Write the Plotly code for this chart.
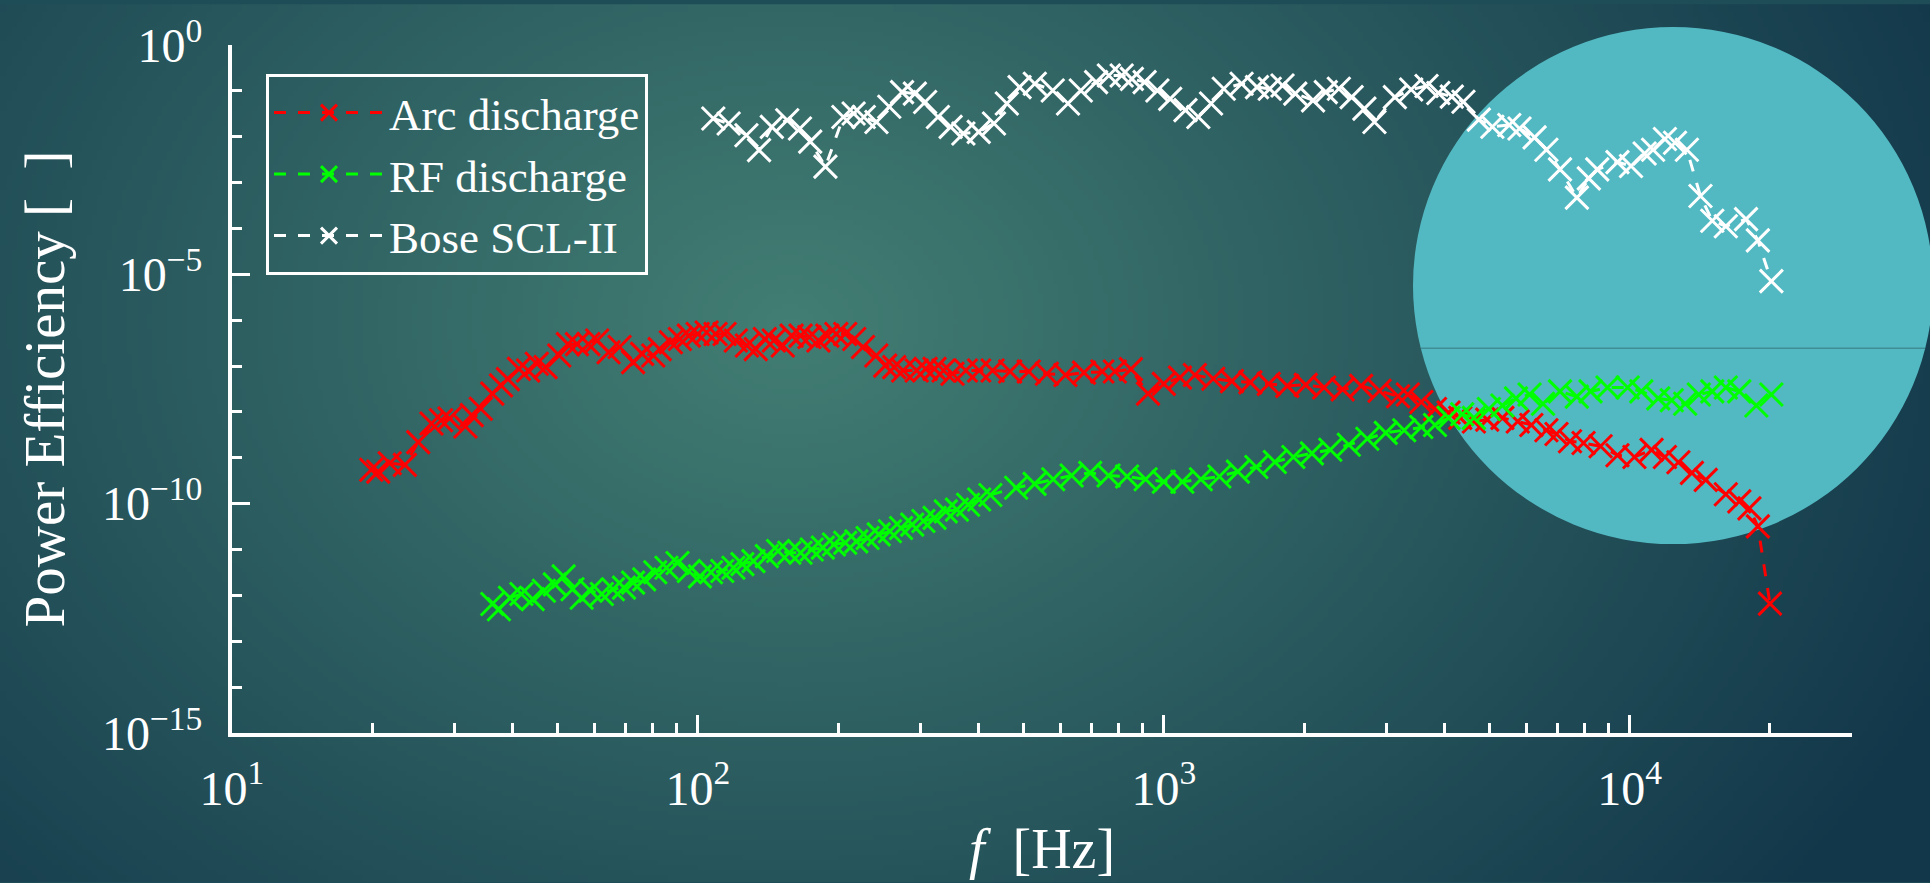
import zlib, struct, base64, math
import plotly.graph_objects as go

# ---------------- data ----------------
arc_freq = [19.9, 20.6, 21.8, 23.5, 25.1, 26.8, 28.1, 29.3, 31.7, 32.7,
            34.2, 36.2, 37.8, 39.1, 41.3, 43.2, 45.1, 47.1, 50.4, 52.6,
            55.0, 58.2, 60.8, 64.3, 67.9, 72.6, 75.9, 80.2, 82.8, 87.5,
            91.5, 95.6, 99.9, 104.4, 109.1, 114.1, 120.6, 127.4, 133.1, 139.2,
            145.5, 152.1, 158.9, 166.1, 173.5, 181.4, 189.6, 198.2, 207.1, 216.5,
            226.2, 241.5, 252.4, 263.9, 275.8, 294.8, 308.2, 322.1, 336.7, 351.9,
            375.9, 401.5, 429.1, 468, 513, 561, 615, 674, 738, 785,
            850, 925, 1000, 1083, 1166, 1277, 1400, 1534, 1680, 1841,
            2017, 2209, 2420, 2652, 2905, 3183, 3340, 3570, 3820, 4085,
            4328, 4630, 4945, 5330, 5750, 6150, 6625, 6965, 7445, 7960,
            8660, 9413, 10235, 11140, 11900, 12720, 13600, 14560, 16080, 17190,
            18070, 18840, 20000]
arc_eff = [5.5e-10, 5.0e-10, 7.6e-10, 7.0e-10, 2.2e-9, 5.6e-9, 6.6e-9, 7.2e-9, 4.8e-9, 8.5e-9,
           1.17e-8, 2.5e-8, 3.8e-8, 5.2e-8, 8.7e-8, 8.0e-8, 1.12e-7, 9.5e-8, 1.7e-7, 3.0e-7,
           3.0e-7, 3.0e-7, 3.6e-7, 2.0e-7, 2.6e-7, 1.22e-7, 1.84e-7, 1.7e-7, 2.34e-7, 3.3e-7,
           3.9e-7, 4.6e-7, 5.0e-7, 5.4e-7, 5.0e-7, 5.0e-7, 3.6e-7, 2.8e-7, 2.34e-7, 3.9e-7,
           3.6e-7, 2.8e-7, 4.6e-7, 4.6e-7, 4.3e-7, 3.6e-7, 4.6e-7, 5.0e-7, 5.0e-7, 3.9e-7,
           2.6e-7, 1.7e-7, 1.02e-7, 9.5e-8, 8.0e-8, 8.0e-8, 8.7e-8, 8.7e-8, 8.0e-8, 6.8e-8,
           8.0e-8, 8.0e-8, 8.0e-8, 7.6e-8, 7.6e-8, 6.8e-8, 6.4e-8, 7.2e-8, 7.6e-8, 7.6e-8,
           8.6e-8, 2.5e-8, 4.1e-8, 5.6e-8, 6.4e-8, 5.3e-8, 4.7e-8, 4.4e-8, 4.1e-8, 3.7e-8,
           3.9e-8, 3.4e-8, 3.1e-8, 3.7e-8, 2.9e-8, 2.2e-8, 2.4e-8, 1.65e-8, 1.16e-8, 9.7e-9,
           7.4e-9, 6.2e-9, 6.8e-9, 7.4e-9, 6.2e-9, 5.2e-9, 4.0e-9, 3.3e-9, 2.3e-9, 2.1e-9,
           1.78e-9, 1.14e-9, 1.04e-9, 1.49e-9, 1.04e-9, 8.0e-10, 4.7e-10, 3.3e-10, 1.6e-10, 1.12e-10,
           7.9e-11, 3.2e-11, 6.6e-13]

rf_freq = [36.2, 37.4, 39.5, 41.8, 44.2, 46.7, 49.3, 51.5, 53.8, 56.3,
           58.8, 62.2, 65.7, 69.4, 72.6, 76.7, 81.0, 85.6, 90.4, 95.6,
           101, 106.7, 112.8, 119.2, 124.6, 131.6, 140.6, 148.6, 157.1, 166.1,
           175.5, 185.4, 195.9, 207.1, 218.8, 231.3, 244.4, 258.3, 272.9, 288.4,
           304.8, 322.1, 340.4, 359.7, 380.1, 401.6, 424.4, 482, 528, 579,
           634, 695, 761, 834, 914, 1000, 1096, 1201, 1316, 1442,
           1580, 1731, 1897, 2079, 2277, 2495, 2734, 2995, 3281, 3570,
           3820, 4085, 4370, 4630, 4985, 5330, 5700, 6095, 6515, 7085,
           7700, 8240, 8960, 9900, 10590, 11515, 12310, 13155, 14070, 15040,
           16080, 17190, 18700, 20140]
rf_eff = [6.5e-13, 5.0e-13, 8.9e-13, 1.07e-12, 8.3e-13, 1.26e-12, 1.74e-12, 2.6e-12, 1.36e-12, 8.9e-13,
          1.26e-12, 1.07e-12, 1.36e-12, 1.48e-12, 1.9e-12, 2.24e-12, 3.2e-12, 4.0e-12, 5.1e-12, 3.4e-12,
          2.6e-12, 3.2e-12, 3.4e-12, 4.0e-12, 4.8e-12, 5.6e-12, 7.2e-12, 9.3e-12, 8.5e-12, 8.5e-12,
          1.0e-11, 1.1e-11, 1.29e-11, 1.41e-11, 1.51e-11, 1.78e-11, 2.14e-11, 2.5e-11, 2.95e-11, 3.5e-11,
          4.2e-11, 4.9e-11, 6.8e-11, 7.4e-11, 9.5e-11, 1.23e-10, 1.55e-10, 2.23e-10, 2.7e-10, 3.4e-10,
          4.1e-10, 4.7e-10, 4.1e-10, 3.9e-10, 3.4e-10, 3.0e-10, 3.0e-10, 3.4e-10, 3.9e-10, 5.0e-10,
          6.3e-10, 8.1e-10, 1.04e-9, 1.25e-9, 1.5e-9, 1.92e-9, 2.6e-9, 3.5e-9, 4.0e-9, 4.7e-9,
          5.2e-9, 7.4e-9, 8.9e-9, 7.4e-9, 1.16e-8, 1.38e-8, 1.97e-8, 2.4e-8, 1.51e-8, 2.8e-8,
          2.16e-8, 2.8e-8, 3.4e-8, 3.4e-8, 2.8e-8, 1.97e-8, 1.8e-8, 1.51e-8, 2.4e-8, 2.8e-8,
          3.4e-8, 2.8e-8, 1.38e-8, 2.4e-8]

bose_freq = [107.9, 116.4, 127.1, 135.3, 144.1, 155.5, 165.6, 174.2, 187.8, 205.2,
             215.9, 227.0, 241.7, 257.5, 274.3, 292.2, 307.4, 327.5, 348.7, 371.4,
             400.6, 432, 460.3, 490.2, 528.6, 577.6, 622.9, 663.5, 715.6, 762.2,
             812, 854, 909.5, 968.8, 1032, 1113, 1186, 1263, 1345, 1469,
             1585, 1688, 1798, 1915, 2091, 2227, 2375, 2530, 2695, 2832,
             3133, 3396, 3664, 3883, 4151, 4397, 4744, 5072, 5514, 5800,
             6250, 6625, 7085, 7702, 8170, 8518, 9413, 10065, 10765, 11225,
             11900, 12510, 13265, 14185, 15040, 16080, 17770, 18840, 20140]
bose_eff = [2.5e-2, 1.94e-2, 1.08e-2, 5.1e-3, 1.64e-2, 2.29e-2, 1.51e-2, 7.8e-3, 2.23e-3, 2.7e-2,
            3.2e-2, 2.7e-2, 2.1e-2, 4.5e-2, 9.4e-2, 8.7e-2, 5.7e-2, 2.7e-2, 1.64e-2, 1.18e-2,
            1.28e-2, 1.94e-2, 5.3e-2, 1.21e-1, 1.43e-1, 1.02e-1, 5.3e-2, 1.02e-1, 1.55e-1, 2.16e-1,
            2.16e-1, 1.83e-1, 1.55e-1, 1.02e-1, 6.7e-2, 3.8e-2, 2.7e-2, 5.3e-2, 1.11e-1, 1.43e-1,
            1.21e-1, 1.11e-1, 1.31e-1, 8.7e-2, 6.2e-2, 9.4e-2, 1.11e-1, 7.3e-2, 4.1e-2, 2.1e-2,
            7.3e-2, 1.07e-1, 1.28e-1, 9.0e-2, 7.5e-2, 5.8e-2, 2.36e-2, 1.65e-2, 1.8e-2, 1.51e-2,
            9.7e-3, 5.2e-3, 1.94e-3, 4.7e-4, 1.24e-3, 1.94e-3, 2.8e-3, 2.3e-3, 4.3e-3, 5.2e-3,
            8.9e-3, 7.4e-3, 5.2e-3, 5.1e-4, 1.47e-4, 1.12e-4, 1.6e-4, 5.5e-5, 7.1e-6]

series_names = ["Arc discharge", "RF discharge", "Bose SCL-II"]
series_colors = ["#ff0000", "#00ff00", "#ffffff"]

x_major_vals = [10, 100, 1000, 10000]
x_major_text = ["10<sup>1</sup>", "10<sup>2</sup>", "10<sup>3</sup>", "10<sup>4</sup>"]
x_minor_vals = [m * d for d in (10, 100, 1000) for m in range(2, 10)] + [20000, 30000]
y_major_vals = [1, 1e-5, 1e-10, 1e-15]
y_major_text = ["10<sup>0</sup>", "10<sup>\u22125</sup>", "10<sup>\u221210</sup>", "10<sup>\u221215</sup>"]
y_minor_vals = [10.0 ** (-k) for k in range(1, 15) if k not in (5, 10)]

# ---------------- geometry ----------------
W, H = 1930, 883
ML, MR, MT, MB = 232, 78, 41, 150
PW, PH = W - ML - MR, H - MT - MB


def px2paper(px, py):
    return (px - ML) / PW, (H - MB - py) / PH


# ---------------- background gradient as png ----------------
def make_png(w, h):
    c0 = (66, 126, 115)
    c1 = (18, 55, 74)
    raw = bytearray()
    for j in range(h):
        raw.append(0)
        Y = (j + 0.5) * H / h
        for i in range(w):
            X = (i + 0.5) * W / w
            d = math.sqrt(((X - 790) / 1250) ** 2 + ((Y - 320) / 950) ** 2)
            t = min(d, 1.0)
            raw += bytes(int(round(c0[k] + (c1[k] - c0[k]) * t)) for k in range(3))

    def chunk(tag, data):
        return (struct.pack('>I', len(data)) + tag + data +
                struct.pack('>I', zlib.crc32(tag + data) & 0xffffffff))

    png = (b'\x89PNG\r\n\x1a\n' +
           chunk(b'IHDR', struct.pack('>IIBBBBB', w, h, 8, 2, 0, 0, 0)) +
           chunk(b'IDAT', zlib.compress(bytes(raw), 9)) +
           chunk(b'IEND', b''))
    return 'data:image/png;base64,' + base64.b64encode(png).decode()


bg_src = make_png(386, 177)

FONT = "Liberation Serif"

fig = go.Figure()
for name, fx, fy, col in zip(series_names, [arc_freq, rf_freq, bose_freq],
                             [arc_eff, rf_eff, bose_eff], series_colors):
    fig.add_trace(go.Scatter(
        x=fx, y=fy, name=name, mode="lines+markers", legendgroup=name,
        line=dict(color=col, width=3, dash="12px,12px"),
        marker=dict(symbol="x-thin", size=23, color=col, line=dict(color=col, width=3)),
    ))

# circle and chord
cx0, cy0 = px2paper(1413, 543)
cx1, cy1 = px2paper(1933, 23)
lx0, ly = px2paper(1421, 346)
lx1, _ = px2paper(1925, 346)
shapes = [
    dict(type="circle", xref="paper", yref="paper", x0=cx0, y0=cy0, x1=cx1, y1=cy1,
         fillcolor="#52b9c2", line=dict(width=0), layer="below"),
    dict(type="line", xref="paper", yref="paper", x0=lx0, y0=ly, x1=lx1, y1=ly,
         line=dict(color="#3f8e95", width=1.5), layer="below"),
]

bx, by = px2paper(0, 0)
lgx, lgy = px2paper(266, 70)

fig.update_layout(
    width=W, height=H,
    margin=dict(l=ML, r=MR, t=MT, b=MB, pad=0),
    paper_bgcolor="#1f4d57",
    plot_bgcolor="rgba(0,0,0,0)",
    font=dict(family=FONT, color="white", size=48),
    shapes=shapes,
    images=[dict(source=bg_src, xref="paper", yref="paper", x=bx, y=by,
                 sizex=W / PW, sizey=H / PH, xanchor="left", yanchor="top",
                 sizing="stretch", layer="below")],
    showlegend=True,
    legend=dict(x=lgx, y=lgy, xanchor="left", yanchor="top",
                bgcolor="rgba(0,0,0,0)", bordercolor="white", borderwidth=3,
                font=dict(family=FONT, size=45, color="white"),
                itemwidth=110, tracegroupgap=0),
    xaxis=dict(type="log", range=[1, math.log10(30000)],
               showline=True, linecolor="white", linewidth=4,
               showgrid=False, zeroline=False,
               ticks="inside", ticklen=18, tickwidth=3, tickcolor="white",
               tickmode="array", tickvals=x_major_vals, ticktext=x_major_text,
               tickfont=dict(family=FONT, size=48, color="white"),
               ticklabelstandoff=10,
               minor=dict(tickmode="array", tickvals=x_minor_vals, ticks="inside",
                          ticklen=10, tickwidth=3, tickcolor="white", showgrid=False),
               title=dict(text="<i>f</i>\u00a0\u00a0[Hz]", standoff=16,
                          font=dict(family=FONT, size=56, color="white"))),
    yaxis=dict(type="log", range=[-15, 0],
               showline=True, linecolor="white", linewidth=4,
               showgrid=False, zeroline=False,
               ticks="inside", ticklen=18, tickwidth=3, tickcolor="white",
               tickmode="array", tickvals=y_major_vals, ticktext=y_major_text,
               tickfont=dict(family=FONT, size=48, color="white"),
               ticklabelstandoff=16,
               minor=dict(tickmode="array", tickvals=y_minor_vals, ticks="inside",
                          ticklen=10, tickwidth=3, tickcolor="white", showgrid=False),
               title=dict(text="Power Efficiency [\u2002]", standoff=20,
                          font=dict(family=FONT, size=57, color="white"))),
)

fig.write_html("out.html")
